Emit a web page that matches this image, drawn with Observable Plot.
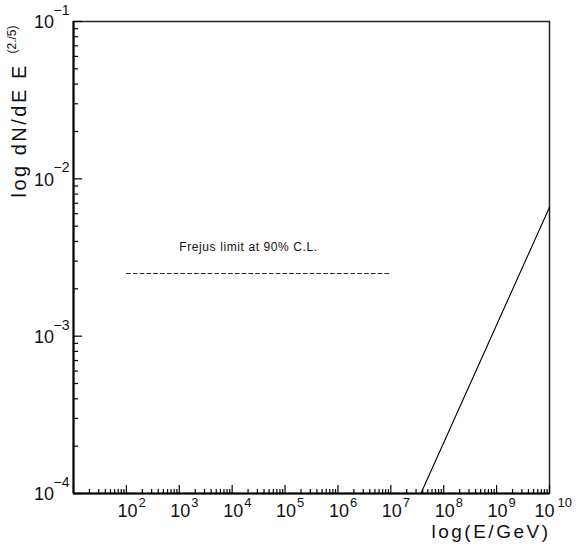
<!DOCTYPE html>
<html>
<head>
<meta charset="utf-8">
<script src="https://cdn.jsdelivr.net/npm/d3@7"></script>
<script src="https://cdn.jsdelivr.net/npm/@observablehq/plot@0.6"></script>
<style>
  html, body { margin: 0; padding: 0; background: #fff; }
  .axlabel text { letter-spacing: 2.5px; }
  .note text { letter-spacing: 0.6px; }
</style>
</head>
<body>
<div id="chart"></div>
<script>
// ---- data ----
const frejusE = [1e2, 1e7];            // GeV, dashed limit extent
const frejusFlux = [2.5e-3, 2.5e-3];   // limit value
const modelE = [3.7e7, 1e10];          // solid line
const modelFlux = [1e-4, 6.6e-3];
const xTickExponents = [2, 3, 4, 5, 6, 7, 8, 9, 10];
const yTickExponents = [-4, -3, -2, -1];
const noteText = "Frejus limit at 90% C.L.";
const noteE = 1e3, noteFlux = 3.7e-3;
const xLabel = "log(E/GeV)";
const yLabelMain = "log dN/dE E";
const yLabelSup = "(2./5)";

const xDomain = [1e1, 1e10];
const yDomain = [1e-4, 1e-1];

// tables built from the arrays
const frejus = frejusE.map((e, i) => ({e, f: frejusFlux[i]}));
const model = modelE.map((e, i) => ({e, f: modelFlux[i]}));
const xMajor = d3.range(1, 11).map(k => Math.pow(10, k));
const xMinor = d3.range(1, 10).flatMap(k => d3.range(2, 10).map(m => m * Math.pow(10, k)));
const yMajor = d3.range(-4, 0).map(k => Math.pow(10, k));
const yMinor = d3.range(-4, -1).flatMap(k => d3.range(2, 10).map(m => m * Math.pow(10, k)));
const xLab1 = xTickExponents.filter(k => k < 10).map(k => ({v: Math.pow(10, k), e: String(k)}));
const xLab2 = xTickExponents.filter(k => k >= 10).map(k => ({v: Math.pow(10, k), e: String(k)}));
const yLab = yTickExponents.map(k => ({v: Math.pow(10, k), e: "\u2212" + Math.abs(k)}));

const W = 579, H = 548, mL = 73, mR = 30, mT = 21, mB = 55;
const innerW = W - mL - mR, innerH = H - mT - mB;
const font = "'Liberation Sans', Arial, Helvetica, sans-serif";

const chart = Plot.plot({
  width: W, height: H,
  marginLeft: mL, marginRight: mR, marginTop: mT, marginBottom: mB,
  style: {fontFamily: font, color: "#111", background: "#fff", overflow: "visible"},
  x: {type: "log", domain: xDomain, axis: null},
  y: {type: "log", domain: yDomain, axis: null},
  marks: [
    Plot.frame({stroke: "#222", strokeWidth: 1.5}),
    Plot.ruleX([xDomain[0]], {stroke: "#000", strokeWidth: 2}),
    Plot.ruleY([yDomain[0]], {stroke: "#000", strokeWidth: 2}),
    // inward ticks on bottom axis
    Plot.tickX(xMajor, {x: d => d, stroke: "#000", strokeWidth: 1.2, insetTop: innerH - 8}),
    Plot.tickX(xMinor, {x: d => d, stroke: "#000", strokeWidth: 1.2, insetTop: innerH - 4}),
    // inward ticks on left axis
    Plot.tickY(yMajor, {y: d => d, stroke: "#000", strokeWidth: 1.2, insetRight: innerW - 9}),
    Plot.tickY(yMinor, {y: d => d, stroke: "#000", strokeWidth: 1.2, insetRight: innerW - 5}),
    // x tick labels
    Plot.text(xLab1, {x: "v", y: () => yDomain[0], text: () => "10", textAnchor: "start", dx: -9, dy: 18, fontSize: 18, fill: "#111"}),
    Plot.text(xLab1, {x: "v", y: () => yDomain[0], text: "e", textAnchor: "start", dx: 12, dy: 9, fontSize: 13, fill: "#111"}),
    Plot.text(xLab2, {x: "v", y: () => yDomain[0], text: () => "10", textAnchor: "start", dx: -15, dy: 18, fontSize: 18, fill: "#111"}),
    Plot.text(xLab2, {x: "v", y: () => yDomain[0], text: "e", textAnchor: "start", dx: 8, dy: 9, fontSize: 13, fill: "#111"}),
    // y tick labels
    Plot.text(yLab, {x: () => xDomain[0], y: "v", text: () => "10", textAnchor: "end", dx: -19.5, dy: 1, fontSize: 18, fill: "#111"}),
    Plot.text(yLab, {x: () => xDomain[0], y: "v", text: "e", textAnchor: "start", dx: -20, dy: -11, fontSize: 14, fill: "#111"}),
    // data
    Plot.line(frejus, {x: "e", y: "f", stroke: "#222", strokeWidth: 1, strokeDasharray: "4,2.8"}),
    Plot.line(model, {x: "e", y: "f", stroke: "#000", strokeWidth: 1.1}),
    Plot.text([noteText], {x: () => noteE, y: () => noteFlux, text: d => d, textAnchor: "start", fontSize: 12, fill: "#111", className: "note"}),
    // axis titles
    Plot.text([xLabel], {frameAnchor: "bottom-right", text: d => d, textAnchor: "end", lineAnchor: "middle", dx: 1, dy: 38, fontSize: 19, fill: "#111", className: "axlabel"}),
    Plot.text([yLabelMain], {frameAnchor: "top-left", text: d => d, rotate: -90, textAnchor: "start", lineAnchor: "middle", dx: 19 - mL, dy: 197 - mT, fontSize: 20, fill: "#111", className: "axlabel"}),
    Plot.text([yLabelSup], {frameAnchor: "top-left", text: d => d, rotate: -90, textAnchor: "start", lineAnchor: "middle", dx: 12 - mL, dy: 53 - mT, fontSize: 12, fill: "#111"})
  ]
});
document.getElementById("chart").appendChild(chart);
</script>
</body>
</html>
